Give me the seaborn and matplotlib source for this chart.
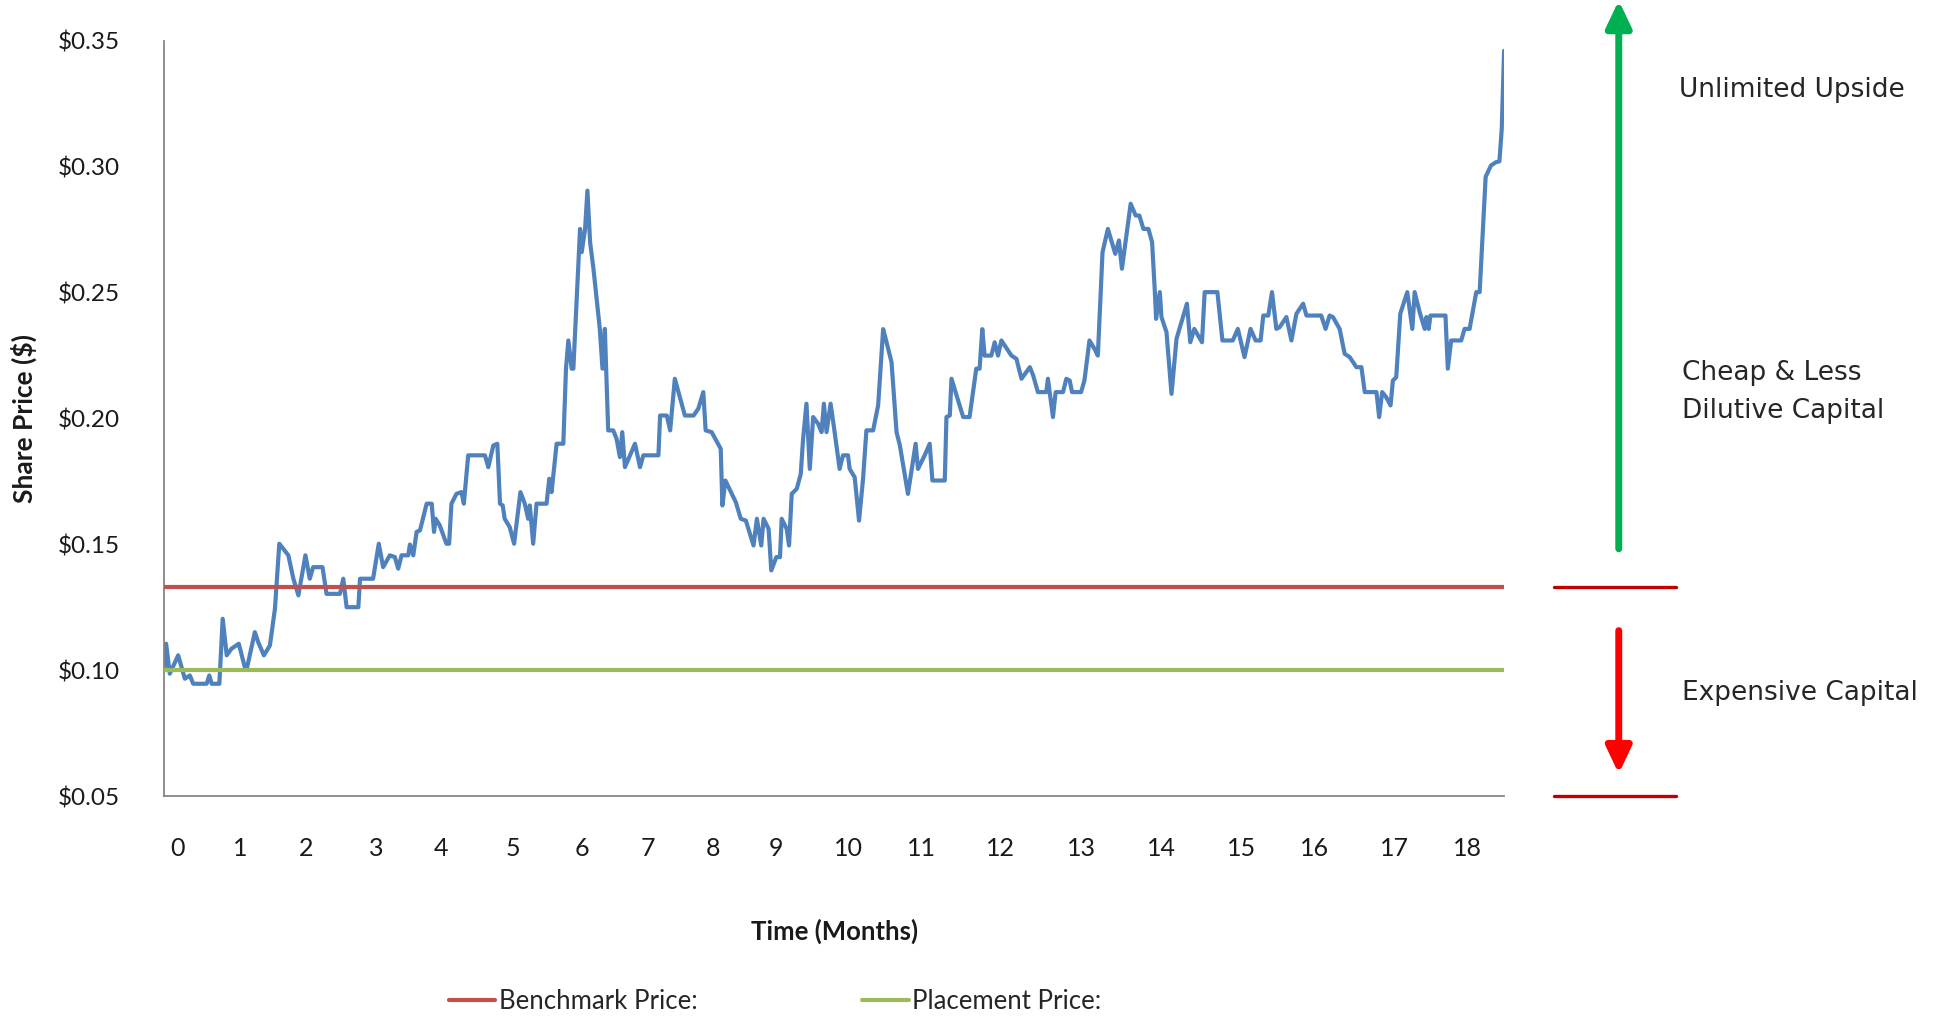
import matplotlib
matplotlib.use("Agg")
import matplotlib.pyplot as plt
import seaborn as sns
import pandas as pd

# trading days since placement and closing share price
days = [0.0, 0.5, 1.6, 4.1, 6.1, 7.6, 8.6, 12.6, 13.4, 14.1, 16.4, 17.4, 18.6, 20.0, 22.2, 24.0, 24.7,
        27.0, 28.0, 29.7, 31.5, 33.0, 34.3, 37.0, 38.5, 40.0, 42.1, 43.4, 44.4, 47.2, 48.4, 52.4, 53.4,
        54.4, 57.9, 58.4, 62.3, 64.0, 65.3, 67.3, 68.8, 69.8, 70.8, 72.8, 73.3, 74.3, 75.3, 76.3, 78.3,
        79.8, 80.5, 81.0, 82.2, 84.2, 85.0, 85.7, 87.2, 88.7, 89.4, 90.7, 95.7, 96.7, 98.2, 99.4, 100.2,
        101.0, 101.6, 103.1, 104.4, 106.3, 107.6, 108.6, 109.1, 110.1, 111.1, 114.1, 114.9, 115.6, 117.1,
        119.1, 119.9, 120.6, 121.6, 122.1, 124.1, 124.6, 125.6, 126.3, 127.1, 128.1, 130.0, 130.8, 131.5,
        132.5, 134.0, 135.0, 136.0, 136.7, 137.5, 139.0, 140.5, 142.0, 143.0, 147.5, 148.0, 150.0, 151.0,
        152.4, 155.4, 158.0, 159.4, 160.9, 161.6, 163.4, 166.1, 166.6, 167.5, 168.7, 170.6, 172.1, 173.6,
        175.9, 176.9, 178.2, 178.9, 180.4, 181.2, 182.7, 183.8, 184.3, 185.8, 186.5, 187.3, 188.8, 190.0,
        190.7, 191.7, 192.7, 193.7, 195.2, 196.2, 196.9, 197.7, 198.9, 199.7, 201.6, 202.6, 204.1, 204.6,
        206.1, 207.4, 208.6, 209.6, 211.6, 213.1, 214.6, 215.1, 217.1, 218.6, 219.6, 222.0, 224.3, 225.0,
        227.0, 228.5, 229.3, 233.0, 233.5, 234.5, 235.0, 238.5, 240.4, 242.4, 243.4, 244.2, 244.9, 246.9,
        247.9, 248.9, 249.9, 250.9, 252.9, 254.4, 255.9, 258.4, 259.4, 260.8, 263.3, 263.8, 265.3, 266.1,
        268.3, 269.3, 270.3, 271.0, 273.7, 274.7, 276.2, 277.7, 278.7, 280.1, 281.7, 283.9, 285.0, 285.9,
        288.5, 290.0, 291.1, 292.3, 293.8, 294.9, 295.7, 296.1, 297.2, 297.7, 299.2, 300.7, 302.2, 305.3,
        306.3, 307.5, 309.8, 310.6, 314.4, 315.9, 319.0, 320.5, 322.5, 324.3, 325.8, 327.3, 328.1, 329.6,
        330.7, 332.0, 333.0, 335.0, 336.5, 338.0, 340.0, 341.0, 345.4, 346.7, 347.9, 348.9, 350.9, 352.4,
        353.9, 355.9, 357.4, 358.4, 361.9, 362.7, 363.6, 364.8, 366.1, 366.8, 367.8, 369.0, 371.1, 372.6,
        373.3, 374.8, 376.3, 376.8, 377.5, 378.0, 382.5, 383.2, 384.2, 387.2, 388.2, 389.7, 391.7, 392.7,
        394.5, 396.1, 397.6, 398.6, 399.3, 400.0]
price = [0.100, 0.1106, 0.0987, 0.106, 0.0967, 0.098, 0.0947, 0.0947, 0.098, 0.0947, 0.0947, 0.1205,
         0.106, 0.1086, 0.1106, 0.1013, 0.1013, 0.1152, 0.1112, 0.106, 0.1099, 0.1245, 0.1503, 0.1457,
         0.1364, 0.1298, 0.1457, 0.1364, 0.141, 0.141, 0.1304, 0.1304, 0.1364, 0.1251, 0.1251, 0.1364,
         0.1364, 0.1503, 0.141, 0.1457, 0.145, 0.1404, 0.1457, 0.1457, 0.150, 0.1457, 0.155, 0.1556,
         0.1662, 0.1662, 0.155, 0.1602, 0.1576, 0.1503, 0.1503, 0.1662, 0.1701, 0.1708, 0.1662, 0.1854,
         0.1854, 0.1807, 0.1893, 0.190, 0.1662, 0.1655, 0.1602, 0.1569, 0.1503, 0.1708, 0.1662, 0.1602,
         0.1655, 0.1503, 0.1662, 0.1662, 0.1761, 0.1708, 0.190, 0.190, 0.2198, 0.231, 0.2198, 0.2198,
         0.2753, 0.2661, 0.2753, 0.2905, 0.270, 0.2595, 0.2356, 0.2198, 0.2356, 0.1953, 0.1953, 0.192,
         0.1847, 0.1946, 0.1807, 0.1854, 0.190, 0.1807, 0.1854, 0.1854, 0.2012, 0.2012, 0.1953, 0.2158,
         0.2012, 0.2012, 0.2039, 0.2105, 0.1953, 0.1946, 0.188, 0.1655, 0.1754, 0.1721, 0.1668, 0.1602,
         0.1595, 0.1496, 0.1602, 0.1496, 0.1602, 0.1562, 0.1397, 0.145, 0.145, 0.1602, 0.1562, 0.1496,
         0.1701, 0.1721, 0.178, 0.192, 0.2059, 0.180, 0.2006, 0.1979, 0.1946, 0.2059, 0.1946, 0.2059,
         0.1986, 0.180, 0.1854, 0.1854, 0.180, 0.1767, 0.1595, 0.1761, 0.1953, 0.1953, 0.2052, 0.2355,
         0.233, 0.2224, 0.1946, 0.1893, 0.1701, 0.190, 0.180, 0.1854, 0.190, 0.1754, 0.1754, 0.2006,
         0.2012, 0.2158, 0.2006, 0.2006, 0.2198, 0.2198, 0.2355, 0.225, 0.225, 0.2303, 0.225, 0.231,
         0.229, 0.225, 0.2237, 0.2158, 0.2204, 0.2171, 0.2105, 0.2105, 0.2158, 0.2006, 0.2105, 0.2105,
         0.2158, 0.2151, 0.2105, 0.2105, 0.2151, 0.231, 0.2277, 0.225, 0.266, 0.2753, 0.2654, 0.2707,
         0.2595, 0.2853, 0.2806, 0.2806, 0.2753, 0.2753, 0.270, 0.2509, 0.2396, 0.2502, 0.2403, 0.2343,
         0.2098, 0.2317, 0.2456, 0.2303, 0.2356, 0.2303, 0.2502, 0.2502, 0.231, 0.231, 0.2356, 0.2244,
         0.2356, 0.231, 0.231, 0.2409, 0.2409, 0.2502, 0.2356, 0.2363, 0.2403, 0.231, 0.2416, 0.2456,
         0.2409, 0.2409, 0.2356, 0.2409, 0.2403, 0.2356, 0.2257, 0.2244, 0.2204, 0.2204, 0.2105, 0.2105,
         0.2006, 0.2105, 0.2085, 0.2052, 0.2151, 0.2164, 0.2416, 0.2502, 0.2356, 0.2502, 0.2422, 0.2356,
         0.2403, 0.2356, 0.2409, 0.2409, 0.2198, 0.231, 0.231, 0.2356, 0.2356, 0.2502, 0.2502, 0.2960,
         0.3005, 0.3018, 0.3021, 0.3149, 0.346]

benchmark_price = 0.1333
placement_price = 0.10

month_ticks = [3.8, 22.6, 42.2, 63.3, 82.5, 104.0, 124.8, 144.3, 163.7, 182.7, 204.3, 226.1,
               249.7, 273.7, 297.6, 321.5, 343.3, 367.2, 389.0]
month_labels = [str(m) for m in range(19)]
price_ticks = [0.05, 0.10, 0.15, 0.20, 0.25, 0.30, 0.35]
price_labels = ["$%.2f" % p for p in price_ticks]

zone_labels = ["Unlimited Upside", "Cheap & Less\nDilutive Capital", "Expensive Capital"]


def main():
    sns.set_theme(style="white")
    plt.rcParams["font.family"] = ["Lato", "DejaVu Sans"]

    df = pd.DataFrame({"day": days, "price": price})

    fig = plt.figure(figsize=(19.39, 10.19), dpi=100)
    ax = fig.add_axes([0.0848, 0.2185, 0.6909, 0.7415])

    sns.lineplot(x="day", y="price", data=df, ax=ax, color="#4F81BD", lw=3.0,
                 estimator=None, sort=False, legend=False)
    ax.axhline(benchmark_price, color="#C0504D", lw=3.0, zorder=4, label="Benchmark Price:")
    ax.axhline(placement_price, color="#9BBB59", lw=3.0, zorder=4, label="Placement Price:")

    ax.set_xlim(0, 400)
    ax.set_ylim(0.05, 0.35)
    ax.set_xticks(month_ticks)
    ax.set_xticklabels(month_labels)
    ax.set_yticks(price_ticks)
    ax.set_yticklabels(price_labels)
    ax.tick_params(axis="x", length=0, pad=29, labelsize=18, labelcolor="#1a1a1a")
    ax.tick_params(axis="y", length=0, pad=32, labelsize=17.5, labelcolor="#1a1a1a")

    for side in ["top", "right"]:
        ax.spines[side].set_visible(False)
    for side in ["left", "bottom"]:
        ax.spines[side].set_color("#868686")
        ax.spines[side].set_linewidth(1.3)

    ax.set_xlabel("Time (Months)", fontsize=18.5, fontweight="bold", color="#1a1a1a")
    ax.xaxis.set_label_coords(0.5, -0.162)
    ax.set_ylabel("Share Price ($)", fontsize=19, fontweight="bold", color="#1a1a1a")
    ax.yaxis.set_label_coords(-0.095, 0.5)

    ax.legend(loc="center left", bbox_to_anchor=(0.2316, 0.0175), bbox_transform=fig.transFigure,
              ncol=2, frameon=False, fontsize=18.5, handlelength=1.8, handletextpad=0.15,
              columnspacing=6.4, borderpad=0, borderaxespad=0)

    # zone markers on the right
    tr = ax.get_yaxis_transform()
    for level in [benchmark_price, 0.05]:
        ax.plot([1.0373, 1.1284], [level, level], transform=tr, color="#C00000",
                lw=2.4, clip_on=False)
    ax.annotate("", xy=(1.0856, 0.3660), xytext=(1.0856, 0.1483), xycoords=tr, textcoords=tr,
                annotation_clip=False,
                arrowprops=dict(arrowstyle="-|>,head_length=0.8,head_width=0.38", lw=5,
                                color="#00B050", mutation_scale=20, shrinkA=0, shrinkB=0))
    ax.annotate("", xy=(1.0856, 0.0590), xytext=(1.0856, 0.1158), xycoords=tr, textcoords=tr,
                annotation_clip=False,
                arrowprops=dict(arrowstyle="-|>,head_length=0.8,head_width=0.38", lw=5,
                                color="#FF0000", mutation_scale=20, shrinkA=0, shrinkB=0))

    zone_y = [0.3303, 0.2106, 0.0911]
    zone_x = [1.1307, 1.1329, 1.1329]
    for txt, x, y in zip(zone_labels, zone_x, zone_y):
        ax.text(x, y, txt, transform=tr, ha="left", va="center", fontsize=19,
                family=["DejaVu Sans"], color="#262626", linespacing=1.6, clip_on=False)

    fig.savefig("out.png", dpi=100)


if __name__ == "__main__":
    main()
